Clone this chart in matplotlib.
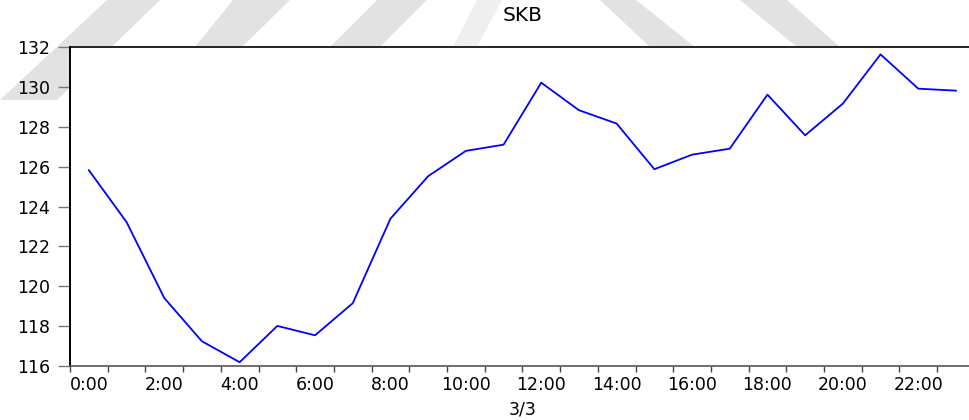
import numpy as np
import matplotlib
matplotlib.use("Agg")
import matplotlib.pyplot as plt
from matplotlib.patches import Polygon

# hourly SKB values for 3/3
hours = np.arange(24)
skb = [125.82, 123.22, 119.41, 117.24, 116.19, 118.01, 117.54, 119.15,
       123.39, 125.52, 126.79, 127.10, 130.21, 128.83, 128.16, 125.87,
       126.60, 126.90, 129.61, 127.57, 129.16, 131.63, 129.91, 129.81]
hour_labels = ["%d:00" % h for h in range(0, 24, 2)]
yticks = [116, 118, 120, 122, 124, 126, 128, 130, 132]

W, H = 969, 420
fig = plt.figure(figsize=(W / 100, H / 100), dpi=100)
fig.patch.set_facecolor("white")

# light grey background stripes (pixel coords, y from top)
stripes = [
    ([(107, 0), (160, 0), (57, 100), (0, 100)], "#e2e2e2"),
    ([(233, 0), (290, 0), (242, 47), (195, 47)], "#e2e2e2"),
    ([(377, 0), (427, 0), (380, 47), (330, 47)], "#e2e2e2"),
    ([(477, 0), (502, 0), (477, 47), (453, 47)], "#efefef"),
    ([(600, 0), (636, 0), (695, 47), (650, 47)], "#e2e2e2"),
    ([(740, 0), (787, 0), (840, 47), (797, 47)], "#e2e2e2"),
]
for pts, col in stripes:
    xy = [(x / W, 1 - y / H) for x, y in pts]
    fig.patches.append(Polygon(xy, closed=True, transform=fig.transFigure,
                               facecolor=col, edgecolor="none", zorder=-1))

ax = fig.add_axes([70 / W, (H - 366) / H, 24 * 37.7 / W, 319 / H])
ax.set_facecolor("white")

ax.plot(hours, skb, color="#0000ff", linewidth=1.3)

ax.set_xlim(-0.5, 23.5)
ax.set_ylim(116, 132)

# tick marks between observations, labels on every second hour
ax.set_xticks(np.arange(-0.5, 24, 1))
ax.set_xticklabels([])
ax.set_xticks(range(0, 24, 2), minor=True)
ax.set_xticklabels(hour_labels, minor=True)
ax.tick_params(axis="x", which="major", direction="out", length=4,
               width=1, color="#444444")
ax.tick_params(axis="x", which="minor", length=0, pad=7,
               labelsize=12.5, labelcolor="black")

ax.set_yticks(yticks)
ax.tick_params(axis="y", direction="out", length=8.5, width=1,
               color="#777777", pad=6, labelsize=12.5)

for lab in ax.get_xticklabels(minor=True) + ax.get_yticklabels():
    lab.set_family("DejaVu Sans")

ax.spines["left"].set_linewidth(1.4)
ax.spines["left"].set_color("black")
ax.spines["top"].set_linewidth(1.2)
ax.spines["top"].set_color("black")
ax.spines["bottom"].set_linewidth(1.2)
ax.spines["bottom"].set_color("#555555")
ax.spines["right"].set_visible(False)

ax.set_title("SKB", fontsize=14.5, family="DejaVu Sans", pad=19)
ax.set_xlabel("3/3", fontsize=12.5, family="DejaVu Sans", labelpad=5)

fig.savefig("out.png", dpi=100, facecolor="white")
